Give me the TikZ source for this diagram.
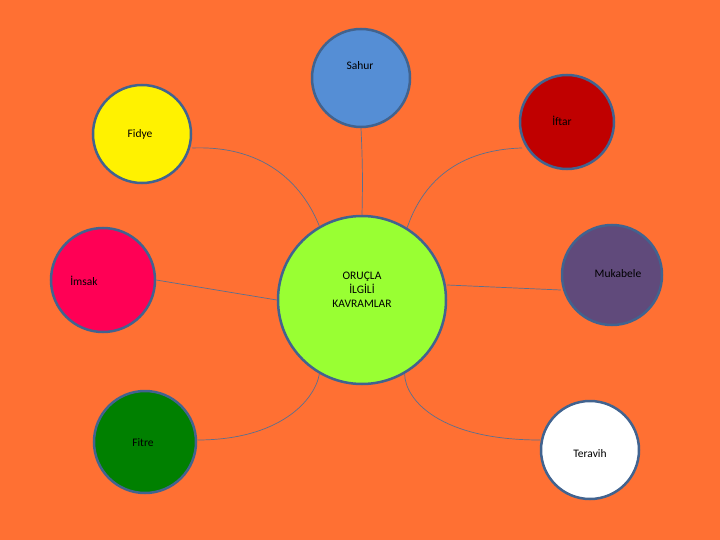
\documentclass[tikz,border=0pt]{standalone}
\usepackage{fontspec}
\setmainfont{Carlito}
\begin{document}
\begin{tikzpicture}[x=1pt,y=-1pt,
  circ/.style={circle,draw=bord,line width=2.5pt,inner sep=0pt},
  lab/.style={font=\fontsize{11.5}{14}\selectfont,text=black,align=center},
  conn/.style={draw=lin,line width=0.7pt}]
\definecolor{bg}{HTML}{FF7033}
\definecolor{bord}{HTML}{41638F}
\definecolor{lin}{HTML}{5A6F8F}
\fill[bg] (0,0) rectangle (720,540);
\useasboundingbox (0,0) rectangle (720,540);
\node[circ,fill={rgb,255:red,85;green,142;blue,213},minimum size=98pt] (sahur) at (361,78) {};
\node[circ,fill=yellow,minimum size=98pt] (fidye) at (142,134) {};
\node[circ,fill={rgb,255:red,192;green,0;blue,0},minimum size=94pt] (iftar) at (567,122) {};
\node[circ,fill={rgb,255:red,153;green,255;blue,51},minimum size=168pt] (c) at (362,300) {};
\node[circ,fill={rgb,255:red,255;green,0;blue,85},minimum size=104pt] (imsak) at (103,280) {};
\node[circ,fill={rgb,255:red,96;green,74;blue,123},minimum size=100pt] (muk) at (612,275) {};
\node[circ,fill={rgb,255:red,0;green,128;blue,0},minimum size=102pt] (fitre) at (145,442) {};
\node[circ,fill=white,minimum size=98pt] (ter) at (590,450) {};
\node[lab] (tsahur) at (360,66) {Sahur};
\node[lab] (tfidye) at (140,134) {Fidye};
\node[lab] (tiftar) at (562,121) {İftar};
\node[lab] (tc) at (362,290) {ORUÇLA\\İLGİLİ\\KAVRAMLAR};
\node[lab] (timsak) at (84,281) {İmsak};
\node[lab] (tmuk) at (618,274) {Mukabele};
\node[lab] (tfitre) at (143,443) {Fitre};
\node[lab] (tter) at (590,454) {Teravih};
\draw[conn] (sahur.south) to[bend left=2] (c.north);
\draw[conn] (fidye.east) ++(0,14) coordinate (f1) .. controls (270,145) and (305,190) .. (c.120);
\draw[conn] (iftar) ++(-45,26) coordinate (i1) .. controls (450,150) and (420,190) .. (c.58);
\draw[conn] (imsak.east) -- (c.west);
\draw[conn] (c.east) ++(0,-15) coordinate (m0) -- (muk.west |- 0,290) coordinate (m1);
\draw[conn] (fitre.east) ++(0,-2) coordinate (t1) .. controls (280,440) and (315,400) .. (c.240);
\draw[conn] (ter.west) ++(0,-10) coordinate (t2) .. controls (440,440) and (405,400) .. (c.300);
\end{tikzpicture}
\end{document}
